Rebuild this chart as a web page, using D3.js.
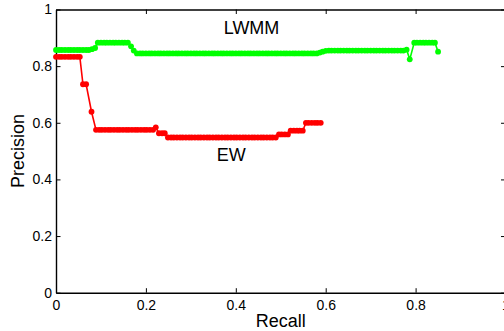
<!DOCTYPE html>
<html>
<head>
<meta charset="utf-8">
<script src="https://cdn.jsdelivr.net/npm/d3@7"></script>
<style>
  body { margin: 0; background: #fff; }
  svg { display: block; font-family: "Liberation Sans", Arial, Helvetica, sans-serif; }
</style>
</head>
<body>
<div id="prchart"></div>
<script>
// tick values and their labels
let tickValues = [0, 0.2, 0.4, 0.6, 0.8, 1];
let tickLabels = ['0', '0.2', '0.4', '0.6', '0.8', '1'];

// LWMM precision / recall curve (green)
let lwmmRecall = [
    0, .007, .013, .02, .027, .033, .04, .047, .053, .06, .067, .073, .08, .087,
    .093, .1, .107, .113, .12, .127, .133, .14, .147, .153, .16, .167, .173,
    .18, .187, .193, .2, .207, .213, .22, .227, .233, .24, .247, .253, .26, .267, .273,
    .28, .287, .293, .3, .307, .313, .32, .327, .333, .34, .347, .353, .36, .367, .373,
    .38, .387, .393, .4, .407, .413, .42, .427, .433, .44, .447, .453, .46, .467, .473,
    .48, .487, .493, .5, .507, .513, .52, .527, .533, .54, .547, .553, .56, .567, .573, .58,
    .587, .593, .6,
    .607, .613, .62, .627, .633, .64, .647, .653, .66, .667, .673, .68, .687, .693, .7,
    .707, .713, .72, .727, .733, .74, .747, .753, .76, .767, .773,
    .78, .787, .797, .803, .81, .817, .823, .83, .837, .843, .85
];
let lwmmPrecision = [
    .857, .857, .857, .857, .857, .857, .857, .857, .857, .857, .857, .857, .86, .864,
    .883, .883, .883, .883, .883, .883, .883, .883, .883, .883, .883, .87, .855,
    .845, .845, .845, .845, .845, .845, .845, .845, .845, .845, .845, .845, .845, .845, .845,
    .845, .845, .845, .845, .845, .845, .845, .845, .845, .845, .845, .845, .845, .845, .845,
    .845, .845, .845, .845, .845, .845, .845, .845, .845, .845, .845, .845, .845, .845, .845,
    .845, .845, .845, .845, .845, .845, .845, .845, .845, .845, .845, .845, .845, .845, .845, .845,
    .848, .851, .854,
    .855, .855, .855, .855, .855, .855, .855, .855, .855, .855, .855, .855, .855, .855, .855,
    .855, .855, .855, .855, .855, .855, .855, .855, .855, .855, .855,
    .858, .824, .883, .883, .883, .883, .883, .883, .883, .883, .851
];

// EW precision / recall curve (red)
let ewRecall = [
    0, .007, .013, .02, .027, .033, .04, .047, .053,
    .06, .067,
    .079,
    .089, .096, .102, .109, .116, .122, .129, .136, .142, .149, .156, .162, .169, .176,
    .182, .189, .196, .202, .209, .216,
    .222,
    .229, .236, .242,
    .249, .256, .262, .269, .276, .282, .289, .296, .302, .309, .316, .322, .329, .336,
    .342, .349, .356, .362, .369, .376, .382, .389, .396, .402, .409, .416, .422, .429,
    .436, .442, .449, .456, .462, .469, .476, .482, .489,
    .496, .502, .509, .516,
    .522, .529, .536, .542, .549,
    .556, .562, .569, .576, .582, .589
];
let ewPrecision = [
    .833, .833, .833, .833, .833, .833, .833, .833, .833,
    .736, .736,
    .639,
    .575, .575, .575, .575, .575, .575, .575, .575, .575, .575, .575, .575, .575, .575,
    .575, .575, .575, .575, .575, .575,
    .584,
    .563, .563, .563,
    .548, .548, .548, .548, .548, .548, .548, .548, .548, .548, .548, .548, .548, .548,
    .548, .548, .548, .548, .548, .548, .548, .548, .548, .548, .548, .548, .548, .548,
    .548, .548, .548, .548, .548, .548, .548, .548, .548,
    .559, .559, .559, .559,
    .572, .572, .572, .572, .572,
    .600, .600, .600, .600, .600, .600
];

let series = [
    { name: 'LWMM', color: '#00ff00', recall: lwmmRecall, precision: lwmmPrecision, lx: 0.435, ly: 0.913 },
    { name: 'EW', color: '#ff0000', recall: ewRecall, precision: ewPrecision, lx: 0.39, ly: 0.465 }
];

let width = 504, height = 331;

let svg = d3.select('#prchart')
    .append('svg')
    .attr('width', width)
    .attr('height', height);

let x = d3.scaleLinear().domain([0, 1]).range([56, 505.5]);
let y = d3.scaleLinear().domain([0, 1]).range([292.7, 9.5]);

// matlab style box: ticks point inward on all four sides
let fmt = (d, i) => tickLabels[i];

svg.append('g')
    .attr('transform', `translate(0,${y(0)})`)
    .call(d3.axisBottom(x).tickValues(tickValues).tickFormat(fmt).tickSize(-4.5).tickSizeOuter(0).tickPadding(7));

svg.append('g')
    .attr('transform', `translate(${x(0)},0)`)
    .call(d3.axisLeft(y).tickValues(tickValues).tickFormat(fmt).tickSize(-4.5).tickSizeOuter(0).tickPadding(4));

svg.append('g')
    .attr('transform', `translate(0,${y(1)})`)
    .call(d3.axisTop(x).tickValues(tickValues).tickFormat('').tickSize(-4.5).tickSizeOuter(0));

svg.append('g')
    .attr('transform', `translate(${x(1)},0)`)
    .call(d3.axisRight(y).tickValues(tickValues).tickFormat('').tickSize(-4.5).tickSizeOuter(0));

svg.selectAll('.domain').attr('stroke', '#000').attr('stroke-width', 1.4);
svg.selectAll('.tick line').attr('stroke', '#000');
svg.selectAll('.tick text')
    .attr('fill', '#000')
    .style('font-size', '14px')
    .style('font-family', '"Liberation Sans", Arial, sans-serif');

let line = d3.line()
    .x(d => x(d[0]))
    .y(d => y(d[1]));

series.forEach(s => {
    let pts = d3.zip(s.recall, s.precision);
    let g = svg.append('g');
    g.append('path')
        .datum(pts)
        .attr('fill', 'none')
        .attr('stroke', s.color)
        .attr('stroke-width', 1.6)
        .attr('d', line);
    g.selectAll('circle').data(pts).enter().append('circle')
        .attr('cx', d => x(d[0]))
        .attr('cy', d => y(d[1]))
        .attr('r', 2.9)
        .attr('fill', s.color);
    svg.append('text')
        .attr('x', x(s.lx))
        .attr('y', y(s.ly))
        .attr('text-anchor', 'middle')
        .style('font-size', '18px')
        .text(s.name);
});

// axis titles
svg.append('text')
    .attr('x', x(0.5))
    .attr('y', 327)
    .attr('text-anchor', 'middle')
    .style('font-size', '18px')
    .text('Recall');

svg.append('text')
    .attr('transform', `translate(24,${y(0.5)}) rotate(-90)`)
    .attr('text-anchor', 'middle')
    .style('font-size', '18px')
    .text('Precision');
</script>
</body>
</html>
